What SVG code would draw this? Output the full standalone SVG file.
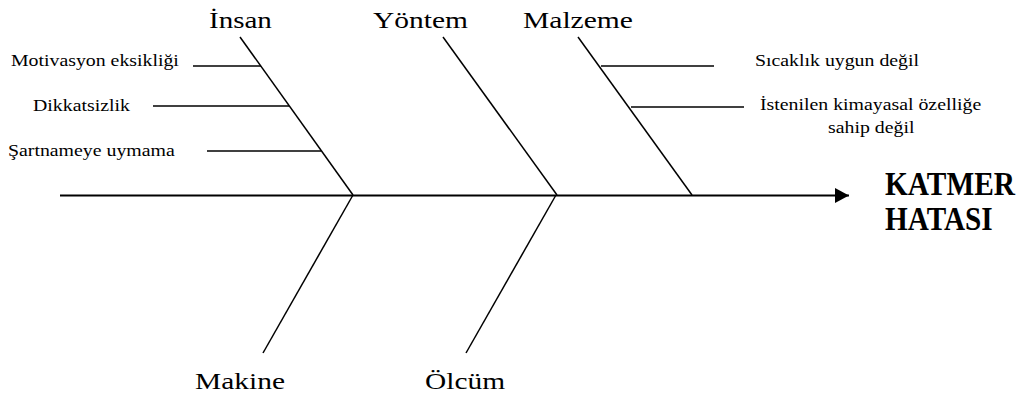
<svg xmlns="http://www.w3.org/2000/svg" width="1031" height="400" viewBox="0 0 1031 400">
<style>
.bg{fill:#fff}
text{font-family:'Liberation Serif','Times New Roman',serif;fill:#000}
.big{font-size:24px}
.sm{font-size:17.5px}
.head{font-size:33px;font-weight:bold}
.bone{stroke:#000;stroke-width:1.5;fill:none}
.spine{stroke:#000;stroke-width:2;fill:none}
</style>
<defs>
<marker id="arr" markerWidth="14" markerHeight="15" refX="14" refY="7.5" orient="auto" markerUnits="userSpaceOnUse">
<path d="M0,0 L14,7.5 L0,15 Z" fill="#000"/>
</marker>
</defs>
<rect class="bg" x="0" y="0" width="1031" height="400"/>
<g id="connectors">
<line class="spine" x1="60" y1="195.5" x2="849" y2="195.5" marker-end="url(#arr)"/>
<line class="bone" x1="240" y1="37" x2="353" y2="195"/>
<line class="bone" x1="443" y1="37" x2="557" y2="195"/>
<line class="bone" x1="578" y1="37" x2="692" y2="195"/>
<line class="bone" x1="353" y1="195" x2="263" y2="353"/>
<line class="bone" x1="556" y1="195" x2="466" y2="353"/>
<line class="bone" x1="193" y1="66" x2="261" y2="66"/>
<line class="bone" x1="153" y1="106" x2="289" y2="106"/>
<line class="bone" x1="207" y1="151" x2="321" y2="151"/>
<line class="bone" x1="601" y1="66" x2="714" y2="66"/>
<line class="bone" x1="631" y1="107" x2="744" y2="107"/>
</g>
<g id="insan"><text class="big" transform="translate(209,28) scale(1.21,1)">İnsan</text></g>
<g id="yontem"><text class="big" transform="translate(373,28) scale(1.229,1)">Yöntem</text></g>
<g id="malzeme"><text class="big" transform="translate(523,28) scale(1.232,1)">Malzeme</text></g>
<g id="makine"><text class="big" transform="translate(195,389) scale(1.228,1)">Makine</text></g>
<g id="olcum"><text class="big" transform="translate(425,389) scale(1.225,1)">Ölcüm</text></g>
<g id="motivasyon"><text class="sm" transform="translate(11,66) scale(1.133,1)">Motivasyon eksikliği</text></g>
<g id="dikkatsizlik"><text class="sm" transform="translate(33,111) scale(1.133,1)">Dikkatsizlik</text></g>
<g id="sartname"><text class="sm" transform="translate(8,156) scale(1.133,1)">Şartnameye uymama</text></g>
<g id="sicaklik"><text class="sm" transform="translate(755,66) scale(1.133,1)">Sıcaklık uygun değil</text></g>
<g id="istenilen">
<text class="sm" transform="translate(760,110) scale(1.133,1)">İstenilen kimayasal özelliğe</text>
<text class="sm" transform="translate(828,133) scale(1.133,1)">sahip değil</text>
</g>
<g id="katmer">
<text class="head" transform="translate(885,195) scale(0.89,1)">KATMER</text>
<text class="head" transform="translate(885,230) scale(0.885,1)">HATASI</text>
</g>
</svg>
